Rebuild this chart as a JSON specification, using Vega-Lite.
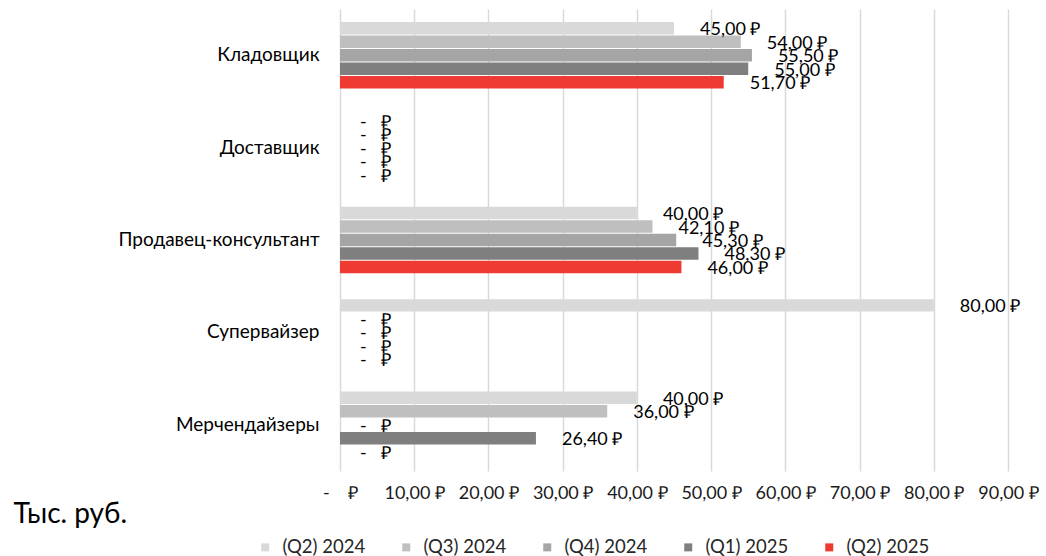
{
  "$schema": "https://vega.github.io/schema/vega-lite/v6.json",
  "width": 668,
  "height": 462,
  "autosize": {"type": "none"},
  "padding": {"left": 340, "top": 9, "right": 38, "bottom": 85},
  "background": "#ffffff",
  "config": {
    "view": {"stroke": null},
    "font": "Lato",
    "text": {"font": "Lato"}
  },
  "data": {
    "values": [
      {"role": "Кладовщик", "period": "(Q2) 2024", "value": 45.0},
      {"role": "Кладовщик", "period": "(Q3) 2024", "value": 54.0},
      {"role": "Кладовщик", "period": "(Q4) 2024", "value": 55.5},
      {"role": "Кладовщик", "period": "(Q1) 2025", "value": 55.0},
      {"role": "Кладовщик", "period": "(Q2) 2025", "value": 51.7},
      {"role": "Доставщик", "period": "(Q2) 2024", "value": 0},
      {"role": "Доставщик", "period": "(Q3) 2024", "value": 0},
      {"role": "Доставщик", "period": "(Q4) 2024", "value": 0},
      {"role": "Доставщик", "period": "(Q1) 2025", "value": 0},
      {"role": "Доставщик", "period": "(Q2) 2025", "value": 0},
      {"role": "Продавец-консультант", "period": "(Q2) 2024", "value": 40.0},
      {"role": "Продавец-консультант", "period": "(Q3) 2024", "value": 42.1},
      {"role": "Продавец-консультант", "period": "(Q4) 2024", "value": 45.3},
      {"role": "Продавец-консультант", "period": "(Q1) 2025", "value": 48.3},
      {"role": "Продавец-консультант", "period": "(Q2) 2025", "value": 46.0},
      {"role": "Супервайзер", "period": "(Q2) 2024", "value": 80.0},
      {"role": "Супервайзер", "period": "(Q3) 2024", "value": 0},
      {"role": "Супервайзер", "period": "(Q4) 2024", "value": 0},
      {"role": "Супервайзер", "period": "(Q1) 2025", "value": 0},
      {"role": "Супервайзер", "period": "(Q2) 2025", "value": 0},
      {"role": "Мерчендайзеры", "period": "(Q2) 2024", "value": 40.0},
      {"role": "Мерчендайзеры", "period": "(Q3) 2024", "value": 36.0},
      {"role": "Мерчендайзеры", "period": "(Q4) 2024", "value": 0},
      {"role": "Мерчендайзеры", "period": "(Q1) 2025", "value": 26.4},
      {"role": "Мерчендайзеры", "period": "(Q2) 2025", "value": 0}
    ]
  },
  "transform": [
    {"calculate": "datum.value == 0 ? '-\u00a0\u00a0\u00a0₽' : replace(format(datum.value, '.2f'), '.', ',') + ' ₽'", "as": "label"}
  ],
  "encoding": {
    "y": {
      "field": "role", "type": "nominal",
      "sort": ["Кладовщик", "Доставщик", "Продавец-консультант", "Супервайзер", "Мерчендайзеры"],
      "scale": {"paddingInner": 0.27, "paddingOuter": 0.135},
      "axis": {"title": null, "domain": false, "ticks": false, "grid": false, "labelPadding": 21, "labelFontSize": 19, "labelColor": "#000000", "labelFont": "Lato", "labelLimit": 400}
    },
    "yOffset": {
      "field": "period", "type": "nominal",
      "sort": ["(Q2) 2024", "(Q3) 2024", "(Q4) 2024", "(Q1) 2025", "(Q2) 2025"],
      "scale": {"paddingInner": 0.08, "paddingOuter": 0.04}
    },
    "x": {
      "field": "value", "type": "quantitative",
      "scale": {"domain": [0, 90], "nice": false},
      "axis": {
        "values": [0, 10, 20, 30, 40, 50, 60, 70, 80, 90],
        "grid": true, "gridColor": "#d9d9d9", "gridWidth": 1.5,
        "domain": false, "ticks": false,
        "labelPadding": 13, "labelFontSize": 18, "labelColor": "#1a1a1a", "labelFont": "Lato", "labelOverlap": false, "labelFlush": false,
        "labelExpr": "datum.value == 0 ? '-\u00a0\u00a0\u00a0\u00a0₽' : replace(format(datum.value, '.2f'), '.', ',') + ' ₽'",
        "title": "Тыс. руб.", "titleFontSize": 28, "titleFontWeight": "normal", "titleColor": "#000000", "titleFont": "Lato",
        "titleX": -327, "titleY": 51, "titleAlign": "left", "titleAnchor": "start", "titleBaseline": "alphabetic"
      }
    }
  },
  "layer": [
    {
      "mark": {"type": "bar"},
      "encoding": {
        "color": {
          "field": "period", "type": "nominal",
          "sort": ["(Q2) 2024", "(Q3) 2024", "(Q4) 2024", "(Q1) 2025", "(Q2) 2025"],
          "scale": {"domain": ["(Q2) 2024", "(Q3) 2024", "(Q4) 2024", "(Q1) 2025", "(Q2) 2025"], "range": ["#d9d9d9", "#bfbfbf", "#a5a5a5", "#7f7f7f", "#ee3a33"]},
          "legend": {
            "title": null, "orient": "none", "direction": "horizontal",
            "legendX": -84, "legendY": 529,
            "symbolType": "square", "symbolSize": 64, "symbolStrokeWidth": 0,
            "labelFontSize": 18.5, "labelColor": "#262626", "labelFont": "Lato",
            "labelOffset": 8, "columnPadding": 31
          }
        }
      }
    },
    {
      "transform": [{"filter": "datum.value > 0"}],
      "mark": {"type": "text", "align": "left", "baseline": "middle", "dx": 26, "dy": 2, "fontSize": 18, "color": "#000000"},
      "encoding": {"text": {"field": "label"}}
    },
    {
      "transform": [{"filter": "datum.value == 0"}],
      "mark": {"type": "text", "align": "left", "baseline": "middle", "dx": 20, "dy": 2, "fontSize": 18, "color": "#000000"},
      "encoding": {"text": {"field": "label"}}
    }
  ]
}
